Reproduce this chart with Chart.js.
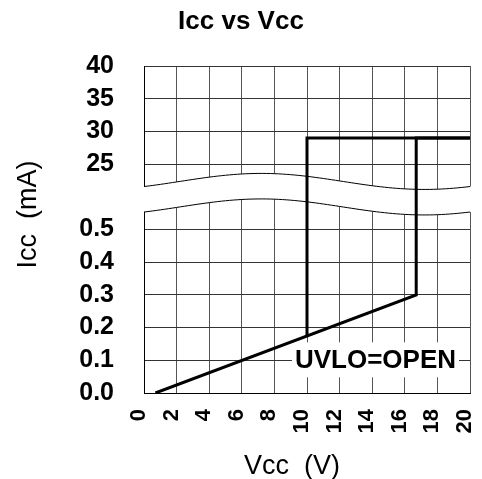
<!DOCTYPE html>
<html><head><meta charset="utf-8">
<script src="https://cdn.jsdelivr.net/npm/chart.js@4"></script>
<style>html,body{margin:0;padding:0;background:#fff;} canvas{display:block;}</style>
</head><body>
<canvas id="c" width="482" height="479"></canvas>
<script>
// ---- data ----
const xTickValues = [0, 2, 4, 6, 8, 10, 12, 14, 16, 18, 20];
const yTickValues = [0.0, 0.1, 0.2, 0.3, 0.4, 0.5, 25, 30, 35, 40];
const yTickLabels = ['0.0', '0.1', '0.2', '0.3', '0.4', '0.5', '25', '30', '35', '40'];
const riseVcc = [0.7, 16.7, 16.7, 20];
const riseIcc = [0.0, 0.3, 29, 29];
const fallVcc = [20, 10, 10];
const fallIcc = [29, 29, 0.174];
const noteText = 'UVLO=OPEN';
const noteVcc = 14.2;
const noteIcc = 0.1;

const FONT = '"Liberation Sans", Arial, Helvetica, sans-serif';

// broken axis: 0..0.5 mA -> 0..5 units, 25..40 mA -> 7..10 units
function toAxis(mA) { return mA <= 0.5 ? mA * 10 : 7 + (mA - 25) / 5; }
function pts(xs, ys) { return xs.map((x, i) => ({ x: x, y: toAxis(ys[i]) })); }

const breakPlugin = {
  id: 'axisBreak',
  beforeDatasetsDraw(chart) {
    const { ctx, chartArea: a, scales: { y } } = chart;
    const N = 80, top = [], bot = [];
    for (let i = 0; i <= N; i++) {
      const f = i / N;
      const x = a.left + (a.right - a.left) * f;
      const w = Math.cos(2 * Math.PI * (f - 0.36)) * 0.245;
      top.push([x, y.getPixelForValue(6.47 + w)]);
      bot.push([x, y.getPixelForValue(5.69 + w)]);
    }
    ctx.save();
    ctx.beginPath();
    ctx.moveTo(top[0][0] - 3, top[0][1]);
    top.forEach(p => ctx.lineTo(p[0], p[1]));
    ctx.lineTo(top[N][0] + 3, top[N][1]);
    ctx.lineTo(bot[N][0] + 3, bot[N][1]);
    for (let i = N; i >= 0; i--) ctx.lineTo(bot[i][0], bot[i][1]);
    ctx.lineTo(bot[0][0] - 3, bot[0][1]);
    ctx.closePath();
    ctx.fillStyle = '#fff';
    ctx.fill();
    ctx.strokeStyle = '#000';
    ctx.lineWidth = 1;
    [top, bot].forEach(line => {
      ctx.beginPath();
      line.forEach((p, i) => i ? ctx.lineTo(p[0], p[1]) : ctx.moveTo(p[0], p[1]));
      ctx.stroke();
    });
    ctx.restore();
  }
};

const notePlugin = {
  id: 'note',
  beforeDatasetsDraw(chart) {
    const { ctx, scales: { x, y } } = chart;
    const cx = x.getPixelForValue(noteVcc), cy = y.getPixelForValue(toAxis(noteIcc));
    ctx.save();
    ctx.font = 'bold 26px ' + FONT;
    const w = ctx.measureText(noteText).width;
    ctx.fillStyle = '#fff';
    ctx.fillRect(cx - w / 2 - 3, cy - 18, w + 6, 35);
    ctx.fillStyle = '#000';
    ctx.textAlign = 'center';
    ctx.textBaseline = 'middle';
    ctx.fillText(noteText, cx, cy + 1);
    ctx.restore();
  }
};

new Chart(document.getElementById('c'), {
  type: 'line',
  data: {
    datasets: [
      { data: pts(riseVcc, riseIcc), borderColor: '#000', borderWidth: 3, pointRadius: 0, fill: false, tension: 0 },
      { data: pts(fallVcc, fallIcc), borderColor: '#000', borderWidth: 3, pointRadius: 0, fill: false, tension: 0 }
    ]
  },
  options: {
    responsive: false,
    animation: false,
    devicePixelRatio: 1,
    layout: { padding: { left: 0, right: 0, top: 0, bottom: 0 } },
    plugins: {
      legend: { display: false },
      tooltip: { enabled: false },
      title: {
        display: true, text: 'Icc vs Vcc', color: '#000',
        font: { family: FONT, size: 26, weight: 'bold', lineHeight: 1.2 },
        padding: { top: 6, bottom: 28.8 }
      }
    },
    scales: {
      x: {
        type: 'linear', min: 0, max: 20,
        afterBuildTicks(s) { s.ticks = xTickValues.map(v => ({ value: v })); },
        afterFit(s) { s.height = 86; s.paddingLeft = 0; s.paddingRight = 12; },
        ticks: {
          autoSkip: false, minRotation: 90, maxRotation: 90, padding: 16, labelOffset: -5, color: '#000',
          font: { family: FONT, size: 22, weight: 'bold' },
          callback: v => String(v)
        },
        grid: { color: '#555', lineWidth: 1, drawTicks: false },
        border: { color: '#000', width: 1 },
        title: {
          display: true, text: 'Vcc  (V)    ', color: '#000',
          font: { family: FONT, size: 27, lineHeight: 0.9 },
          padding: { top: 0, bottom: 0 }
        }
      },
      y: {
        type: 'linear', min: 0, max: 10,
        afterBuildTicks(s) { s.ticks = yTickValues.map(v => ({ value: toAxis(v) })); },
        afterFit(s) { s.width = 144; s.paddingTop = 0; s.paddingBottom = 0; },
        ticks: {
          autoSkip: false, padding: 30, color: '#000',
          font: { family: FONT, size: 25, weight: 'bold' },
          callback: (v, i) => yTickLabels[i]
        },
        grid: { color: '#333', lineWidth: 1, drawTicks: false },
        border: { color: '#000', width: 1 },
        title: {
          display: true, text: '    Icc  (mA)', color: '#000',
          font: { family: FONT, size: 27, lineHeight: 1.2 },
          padding: { top: 12, bottom: 0 }
        }
      }
    }
  },
  plugins: [breakPlugin, notePlugin]
});
</script>
</body></html>
